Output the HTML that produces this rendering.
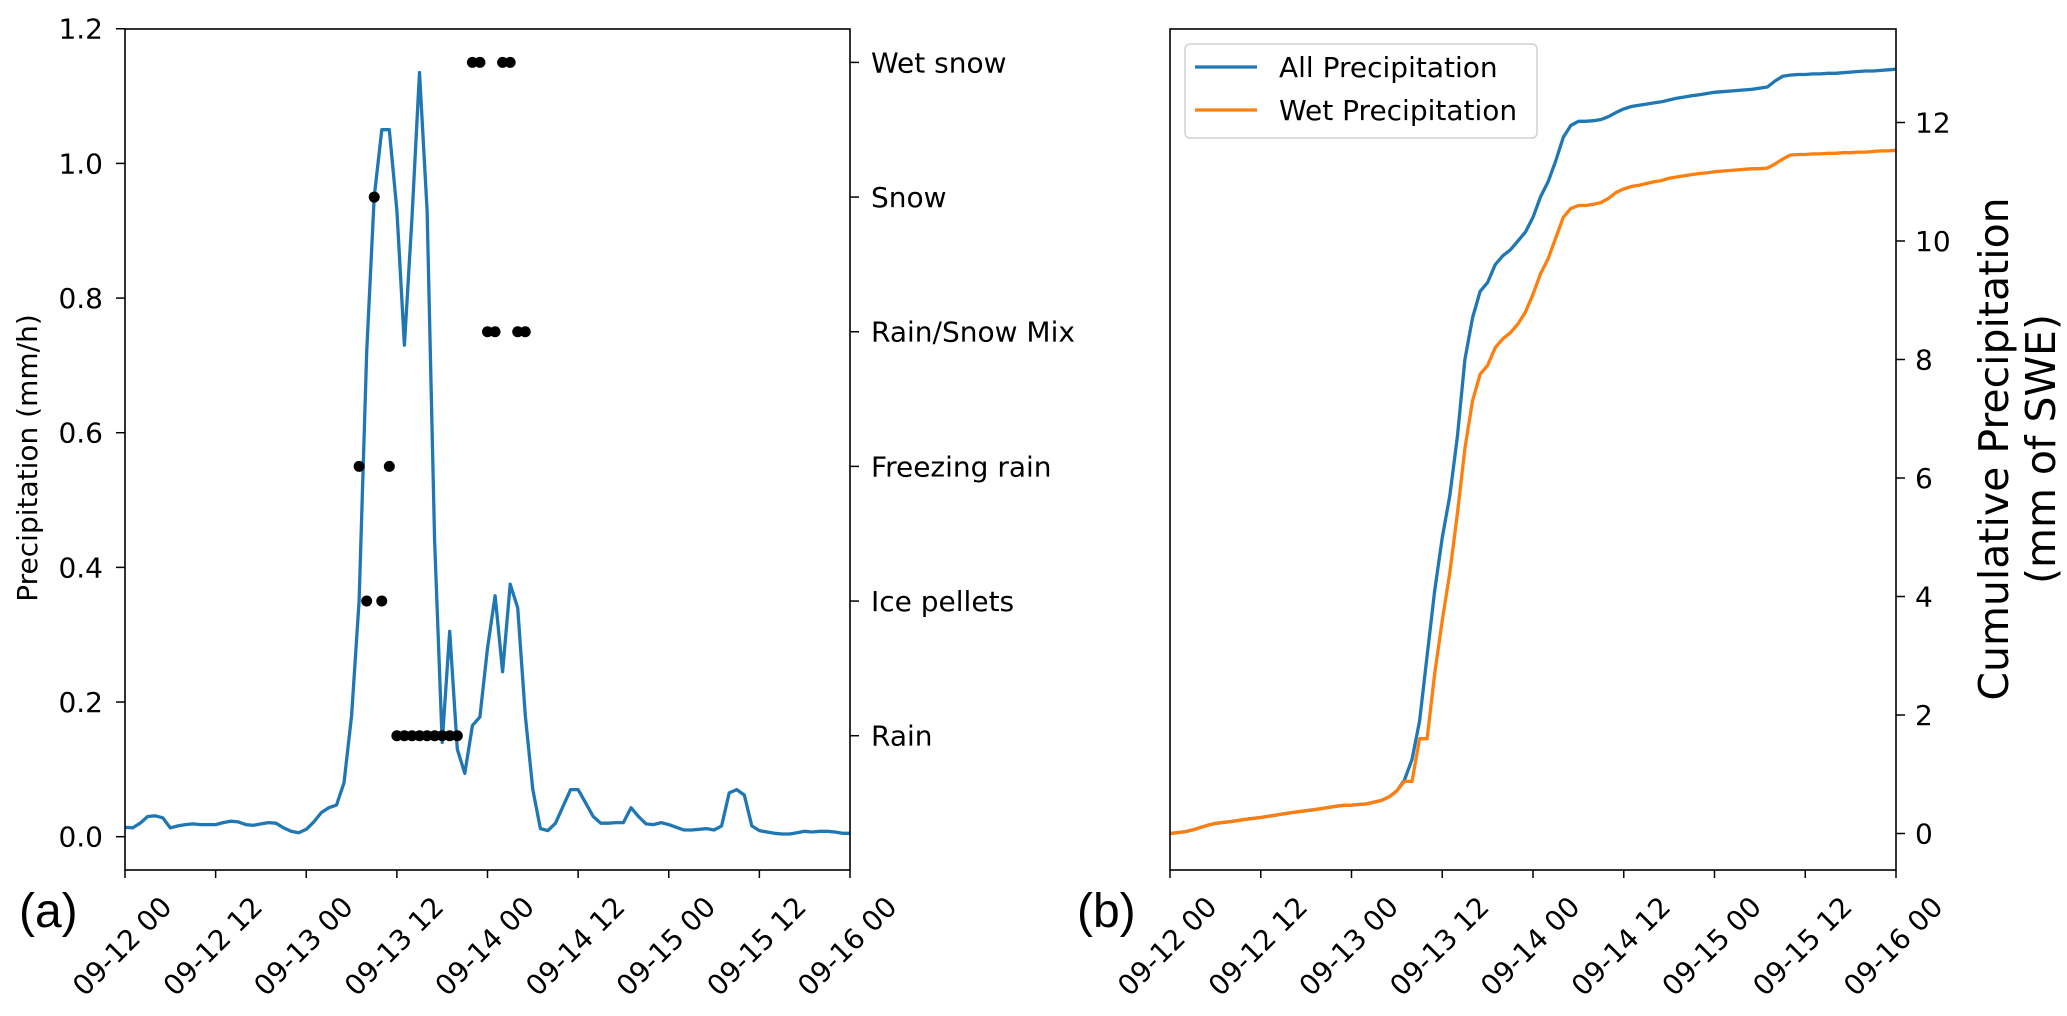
<!DOCTYPE html>
<html><head><meta charset="utf-8"><style>
body{margin:0;background:#fff}
svg{display:block;font-family:"DejaVu Sans","Liberation Sans",sans-serif}
</style></head><body>
<svg id="chart" width="2067" height="1016" viewBox="0 0 2067 1016">
<rect width="2067" height="1016" fill="#fff"/>
<g id="pa"></g>
<g id="pb"></g>
</svg>
<script>
const hours = Array.from({length:97},(_,i)=>i);
const rate = [0.014,0.013,0.02,0.03,0.031,0.028,0.013,0.016,0.018,0.019,0.018,0.018,0.018,0.021,0.023,0.022,0.018,0.017,0.019,0.021,0.02,0.013,0.008,0.006,0.011,0.022,0.036,0.043,0.047,0.08,0.18,0.35,0.72,0.95,1.05,1.05,0.93,0.73,0.92,1.135,0.93,0.44,0.14,0.305,0.13,0.094,0.165,0.178,0.28,0.358,0.245,0.375,0.34,0.18,0.07,0.012,0.009,0.02,0.045,0.07,0.07,0.05,0.03,0.02,0.02,0.021,0.021,0.043,0.03,0.019,0.018,0.021,0.018,0.014,0.01,0.01,0.011,0.012,0.01,0.016,0.065,0.07,0.062,0.016,0.009,0.007,0.005,0.004,0.004,0.006,0.008,0.007,0.008,0.008,0.007,0.005,0.005];
const categories = ["Rain","Ice pellets","Freezing rain","Rain/Snow Mix","Snow","Wet snow"];
const obsHours = [36,37,38,39,40,41,42,43,44,31,35,32,34,33,48,49,52,53,46,47,50,51];
const obsCat   = [0,0,0,0,0,0,0,0,0,2,2,1,1,4,3,3,3,3,5,5,5,5];
const allCum = [0,0.015,0.03,0.06,0.1,0.14,0.17,0.185,0.2,0.22,0.24,0.255,0.27,0.29,0.31,0.33,0.35,0.37,0.385,0.4,0.42,0.44,0.46,0.475,0.48,0.49,0.5,0.53,0.56,0.62,0.72,0.9,1.25,1.9,3.0,4.1,5.0,5.7,6.7,8.0,8.7,9.15,9.3,9.6,9.75,9.85,10.0,10.15,10.4,10.75,11.0,11.35,11.75,11.95,12.02,12.02,12.03,12.05,12.1,12.17,12.23,12.27,12.29,12.31,12.33,12.35,12.38,12.41,12.43,12.45,12.47,12.49,12.51,12.52,12.53,12.54,12.55,12.56,12.58,12.6,12.7,12.78,12.8,12.81,12.81,12.82,12.82,12.83,12.83,12.84,12.85,12.86,12.87,12.87,12.88,12.89,12.9];
const wetCum = [0,0.015,0.03,0.06,0.1,0.14,0.17,0.185,0.2,0.22,0.24,0.255,0.27,0.29,0.31,0.33,0.35,0.37,0.385,0.4,0.42,0.44,0.46,0.475,0.48,0.49,0.5,0.53,0.56,0.62,0.72,0.88,0.88,1.6,1.6,2.7,3.6,4.4,5.4,6.5,7.3,7.75,7.9,8.2,8.35,8.45,8.6,8.8,9.1,9.45,9.7,10.05,10.4,10.55,10.6,10.6,10.62,10.65,10.72,10.82,10.88,10.92,10.94,10.97,11.0,11.02,11.06,11.08,11.1,11.12,11.14,11.15,11.17,11.18,11.19,11.2,11.21,11.22,11.22,11.23,11.3,11.38,11.45,11.46,11.46,11.47,11.47,11.48,11.48,11.49,11.49,11.5,11.5,11.51,11.52,11.52,11.53];
const xTickLabels = ["09-12 00","09-12 12","09-13 00","09-13 12","09-14 00","09-14 12","09-15 00","09-15 12","09-16 00"];
const leftTicks = [0,0.2,0.4,0.6,0.8,1.0,1.2];
const rightTicks = [0,2,4,6,8,10,12];

const NS="http://www.w3.org/2000/svg";
function mk(parent,tag,attrs,text){const e=document.createElementNS(NS,tag);for(const k in attrs)e.setAttribute(k,attrs[k]);if(text!==undefined)e.textContent=text;parent.appendChild(e);return e;}

const T=29,B=870,FS=28;
const xa=h=>125+h*(725/96);
const ya=v=>836.7-v*673.3;
const xb=h=>1170+h*(726/96);
const yb=v=>833.5-v*59.25;

function xAxis(g,xf){
  xTickLabels.forEach((lab,i)=>{
    const x=xf(i*12);
    const t=mk(g,'line',{x1:x,y1:B,x2:x,y2:B+8,stroke:'#000','stroke-width':1.5});
    
    
    const ax=x+4, ay=B+83;
    const tx=mk(g,'text',{x:ax,y:ay,'font-size':FS,'text-anchor':'middle',transform:`rotate(-45 ${ax} ${ay})`},lab);
    
    
  });
}

// Panel A
const pa=document.getElementById('pa');
const pathA=hours.map((h,i)=>(i?'L':'M')+xa(h).toFixed(1)+','+ya(rate[i]).toFixed(1)).join('');
const la=mk(pa,'path',{d:pathA,fill:'none',stroke:'#1f77b4','stroke-width':3.3,'stroke-linejoin':'round'});


obsHours.forEach((h,i)=>{
  const c=mk(pa,'circle',{cx:xa(h),cy:ya(0.15+0.2*obsCat[i]),r:5.5,fill:'#000'});
  
  
});
const fa=mk(pa,'rect',{x:125,y:T,width:725,height:B-T,fill:'none',stroke:'#000','stroke-width':1.6});


leftTicks.forEach(v=>{
  const y=ya(v);
  const t=mk(pa,'line',{x1:116,y1:y,x2:125,y2:y,stroke:'#000','stroke-width':1.5});
  
  
  const tx=mk(pa,'text',{x:103,y:y+10,'font-size':FS,'text-anchor':'end'},v.toFixed(1));
  
  
});
categories.forEach((c,i)=>{
  const y=ya(0.15+0.2*i);
  const t=mk(pa,'line',{x1:850,y1:y,x2:859,y2:y,stroke:'#000','stroke-width':1.5});
  
  
  const tx=mk(pa,'text',{x:871,y:y+10,'font-size':FS},c);
  
  
});
xAxis(pa,xa);
const yla=mk(pa,'text',{x:0,y:0,'font-size':FS,'text-anchor':'middle',transform:'translate(37 458) rotate(-90)'},'Precipitation (mm/h)');


const pla=mk(pa,'text',{x:19,y:927,'font-size':48,'font-family':'Liberation Sans, sans-serif'},'(a)');



// Panel B
const pb=document.getElementById('pb');
[[allCum,'#1f77b4','all-precip-line'],[wetCum,'#ff7f0e','wet-precip-line']].forEach(([s,col,nm])=>{
  const d=hours.map((h,i)=>(i?'L':'M')+xb(h).toFixed(1)+','+yb(s[i]).toFixed(1)).join('');
  const p=mk(pb,'path',{d:d,fill:'none',stroke:col,'stroke-width':3.3,'stroke-linejoin':'round'});
  
  
});
const fb=mk(pb,'rect',{x:1170,y:T,width:726,height:B-T,fill:'none',stroke:'#000','stroke-width':1.6});


rightTicks.forEach(v=>{
  const y=yb(v);
  const t=mk(pb,'line',{x1:1896,y1:y,x2:1905,y2:y,stroke:'#000','stroke-width':1.5});
  
  
  const tx=mk(pb,'text',{x:1915,y:y+10,'font-size':FS},String(v));
  
  
});
xAxis(pb,xb);
const ylb=mk(pb,'text',{x:0,y:0,'font-size':41,'text-anchor':'middle',transform:'translate(2008 449) rotate(-90)'},'Cumulative Precipitation');


const ylb2=mk(pb,'text',{x:0,y:0,'font-size':41,'text-anchor':'middle',transform:'translate(2055 449) rotate(-90)'},'(mm of SWE)');


const plb=mk(pb,'text',{x:1077,y:927,'font-size':48,'font-family':'Liberation Sans, sans-serif'},'(b)');



const lg=mk(pb,'g',{});


mk(lg,'rect',{x:1185,y:44,width:352,height:94,rx:5,fill:'#fff',stroke:'#d0d0d0','stroke-width':1.5});
[['All Precipitation','#1f77b4',67],['Wet Precipitation','#ff7f0e',110]].forEach(([t,c,y])=>{
  const e=mk(lg,'g',{});
  
  
  mk(e,'line',{x1:1195,y1:y,x2:1257,y2:y,stroke:c,'stroke-width':3.3});
  mk(e,'text',{x:1279,y:y+10,'font-size':FS},t);
});
</script>
</body></html>
